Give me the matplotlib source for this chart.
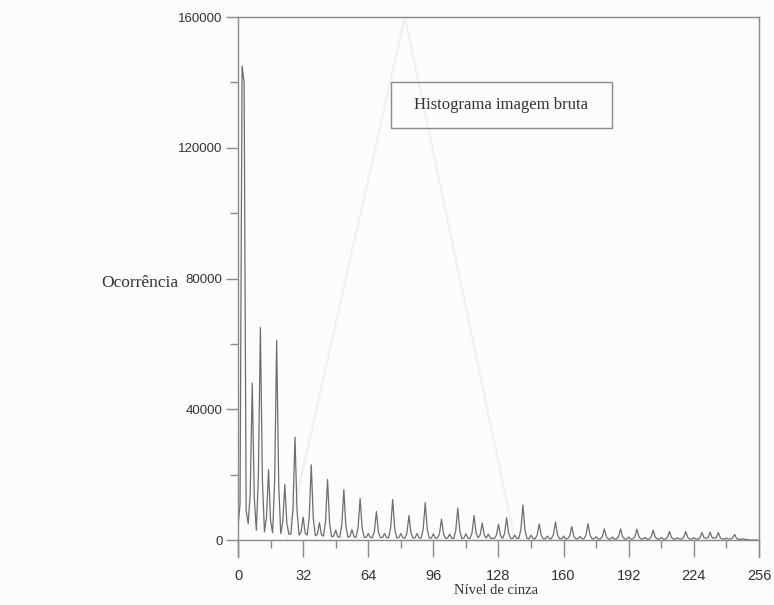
import matplotlib
matplotlib.use("Agg")
import matplotlib.pyplot as plt
from matplotlib.patches import Rectangle

# histogram counts, gray levels 0..255
nivel = list(range(256))
ocorrencia = [
    4000, 11000, 145000, 140000, 9000, 5000, 14000, 48000, 13000, 3000, 19000, 65000, 18000, 2500, 7000, 21500,
    6000, 2200, 18000, 61000, 17000, 2000, 5500, 17000, 5000, 1800, 1800, 9500, 31500, 9000, 1500, 2500,
    7000, 2200, 1500, 7000, 23000, 6500, 1300, 1800, 5300, 1600, 1200, 5500, 18500, 5200, 1000, 1200,
    3000, 1000, 900, 4600, 15400, 4300, 900, 1100, 3200, 1000, 800, 3800, 12700, 3600, 800, 800,
    2000, 800, 700, 2600, 8700, 2400, 700, 800, 2000, 700, 700, 3700, 12400, 3500, 700, 700,
    2000, 700, 600, 2200, 7500, 2100, 600, 700, 2000, 600, 600, 3400, 11400, 3200, 600, 600,
    1900, 600, 600, 1900, 6400, 1800, 500, 600, 1800, 600, 500, 2900, 9800, 2700, 500, 600,
    1900, 600, 500, 2200, 7500, 2100, 700, 1600, 5200, 1500, 600, 1800, 600, 500, 500, 1500,
    4800, 1400, 500, 2000, 6800, 2000, 500, 500, 1500, 500, 500, 3200, 10700, 3000, 500, 400,
    1500, 400, 400, 1500, 4900, 1400, 400, 400, 1200, 400, 400, 1700, 5500, 1600, 400, 400,
    1200, 400, 400, 1300, 4100, 1200, 400, 400, 1100, 400, 400, 1500, 5000, 1400, 400, 400,
    1000, 300, 300, 1000, 3400, 1000, 300, 300, 900, 300, 300, 1000, 3400, 1000, 300, 300,
    900, 300, 300, 1000, 3300, 1000, 300, 300, 800, 300, 300, 900, 3000, 900, 300, 300,
    800, 300, 300, 800, 2600, 800, 300, 300, 700, 300, 300, 800, 2600, 800, 300, 300,
    700, 300, 300, 700, 2300, 700, 600, 700, 2400, 700, 600, 700, 2300, 700, 300, 300,
    600, 300, 300, 600, 1700, 500, 200, 200, 400, 200, 150, 0, 0, 0, 0, 0,
]

# faint show-through from the back of the scanned page
sombra_x = [24, 82, 136]
sombra_y = [0, 160000, 0]

xticks = [0, 32, 64, 96, 128, 160, 192, 224, 256]
yticks = [0, 40000, 80000, 120000, 160000]

fig = plt.figure(figsize=(7.74, 6.05), dpi=100, facecolor="#fbfcfd")
ax = fig.add_axes([0.3075, 0.0793, 0.6731, 0.8926])
ax.set_facecolor("#fbfcfd")

ax.plot(sombra_x, sombra_y, color="#eef1f4", lw=1.6, zorder=0)
ax.plot(nivel, ocorrencia, color="#6e6e6e", lw=0.9, zorder=2)

ax.set_xlim(0, 256)
ax.set_ylim(-5200, 160000)

ax.spines["bottom"].set_position(("data", 0))
for s in ax.spines.values():
    s.set_color("#8a8a8a")
    s.set_linewidth(1.0)

ax.set_xticks(xticks)
ax.set_xticks([16, 48, 80, 112, 144, 176, 208, 240], minor=True)
ax.set_yticks(yticks)
ax.set_yticks([20000, 60000, 100000, 140000], minor=True)
ax.tick_params(which="major", direction="out", length=12, width=1.0, color="#8a8a8a",
               labelcolor="#333333")
ax.tick_params(which="minor", direction="out", length=6, width=1.0, color="#8a8a8a")
ax.tick_params(axis="x", which="major", pad=9, labelsize=10.5)
ax.tick_params(axis="y", which="major", length=9, pad=2, labelsize=9.5)
for lab in ax.get_xticklabels() + ax.get_yticklabels():
    lab.set_family("Liberation Sans")

fig.text(140 / 774, 1 - 283 / 605, "Ocorrência", family="Liberation Serif", fontsize=12.5,
         color="#333333", ha="center", va="center")
fig.text(496 / 774, 1 - 590 / 605, "Nível de cinza", family="Liberation Serif", fontsize=10.5,
         color="#333333", ha="center", va="center")

# caption box
fig.patches.append(Rectangle((391 / 774, 1 - 128 / 605), 221 / 774, 46 / 605,
                             transform=fig.transFigure, fill=False, ec="#8a8a8a", lw=1.0))
fig.text(501 / 774, 1 - 105 / 605, "Histograma imagem bruta", family="Liberation Serif",
         fontsize=12, color="#333333", ha="center", va="center")

plt.savefig("out.png", dpi=100, facecolor=fig.get_facecolor())
